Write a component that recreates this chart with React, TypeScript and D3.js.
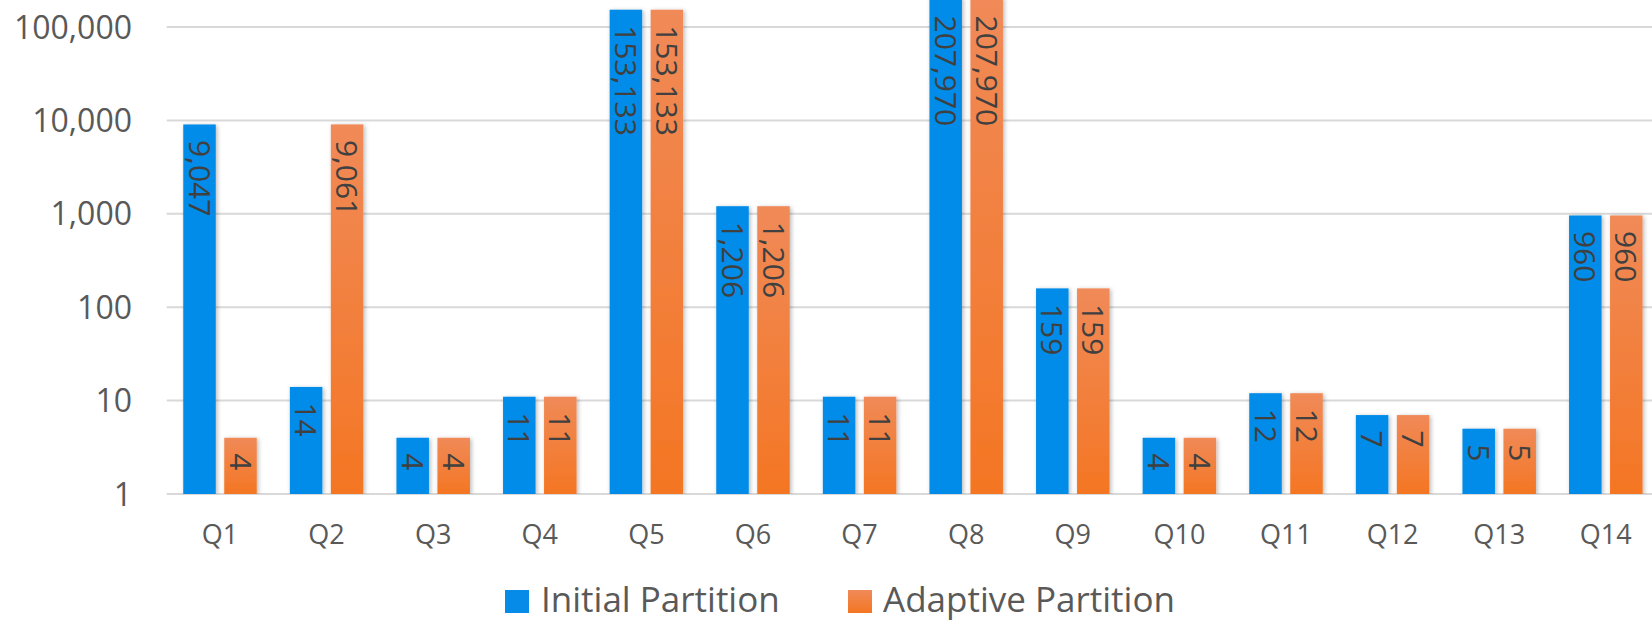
import React from 'react';
import * as d3 from 'd3';

// Query run results per partitioning strategy (log scale)
const categories = ['Q1', 'Q2', 'Q3', 'Q4', 'Q5', 'Q6', 'Q7', 'Q8', 'Q9', 'Q10', 'Q11', 'Q12', 'Q13', 'Q14'];
const initialPartition = [9047, 14, 4, 11, 153133, 1206, 11, 207970, 159, 4, 12, 7, 5, 960];
const adaptivePartition = [4, 9061, 4, 11, 153133, 1206, 11, 207970, 159, 4, 12, 7, 5, 960];
const seriesNames = ['Initial Partition', 'Adaptive Partition'];
const yTicks = [1, 10, 100, 1000, 10000, 100000];

const W = 1652;
const H = 621;
const plotLeft = 166.7;
const step = 106.6;
const baseY = 494;
const topY = 27;

const FONT = '"Open Sans", "DejaVu Sans", sans-serif';
const fmt = d3.format(',');

export default function App() {
  const x = d3
    .scaleBand<string>()
    .domain(categories)
    .range([plotLeft, plotLeft + categories.length * step])
    .paddingInner(0)
    .paddingOuter(0);

  const inner = d3
    .scaleBand<string>()
    .domain(seriesNames)
    .range([-36.75, 36.75])
    .paddingInner(0.207)
    .paddingOuter(0);

  const y = d3.scaleLog().domain([1, 100000]).range([baseY, topY]);

  const series = [
    { name: seriesNames[0], values: initialPartition, fill: '#068CE8' },
    { name: seriesNames[1], values: adaptivePartition, fill: 'url(#orangeGrad)' },
  ];

  return (
    <svg
      width={W}
      height={H}
      viewBox={`0 0 ${W} ${H}`}
      style={{ position: 'absolute', left: 0, top: 0, background: '#fff' }}
    >
      <defs>
        <linearGradient id="orangeGrad" x1="0" y1="0" x2="0" y2="1">
          <stop offset="0%" stopColor="#F08A58" />
          <stop offset="100%" stopColor="#F47623" />
        </linearGradient>
        <filter id="barShadow" x="-30%" y="-10%" width="160%" height="120%">
          <feDropShadow dx="1.5" dy="1" stdDeviation="2" floodColor="#000" floodOpacity="0.28" />
        </filter>
        <clipPath id="plotClip">
          <rect x={plotLeft} y={0} width={W - plotLeft} height={baseY} />
        </clipPath>
      </defs>

      {/* gridlines */}
      {yTicks.map((t) => (
        <line
          key={`g${t}`}
          x1={plotLeft}
          x2={W}
          y1={y(t)}
          y2={y(t)}
          stroke="#D9D9D9"
          strokeWidth={2}
        />
      ))}

      {/* y tick labels */}
      {yTicks.map((t) => (
        <text
          key={`yt${t}`}
          x={132}
          y={y(t)}
          dy="0.36em"
          textAnchor="end"
          fontFamily={FONT}
          fontSize={32}
          fill="#595959"
        >
          {fmt(t)}
        </text>
      ))}

      {/* bars */}
      <g clipPath="url(#plotClip)">
        {series.map((s) =>
          categories.map((c, i) => {
            const v = s.values[i];
            const cx = (x(c) as number) + x.bandwidth() / 2 + (inner(s.name) as number);
            const top = y(v);
            return (
              <rect
                key={`${s.name}-${c}`}
                x={cx}
                y={top}
                width={inner.bandwidth()}
                height={baseY - top}
                fill={s.fill}
                filter="url(#barShadow)"
              />
            );
          })
        )}
      </g>

      {/* value labels, rotated inside the bar ends */}
      {series.map((s) =>
        categories.map((c, i) => {
          const v = s.values[i];
          const cx =
            (x(c) as number) + x.bandwidth() / 2 + (inner(s.name) as number) + inner.bandwidth() / 2;
          const top = Math.max(y(v), 0) + 15.5;
          return (
            <text
              key={`l-${s.name}-${c}`}
              transform={`translate(${cx},${top}) rotate(90)`}
              dy="0.36em"
              textAnchor="start"
              fontFamily={FONT}
              fontSize={30}
              fill="#404040"
            >
              {fmt(v)}
            </text>
          );
        })
      )}

      {/* x axis labels */}
      {categories.map((c) => (
        <text
          key={`xl${c}`}
          x={(x(c) as number) + x.bandwidth() / 2}
          y={544}
          textAnchor="middle"
          fontFamily={FONT}
          fontSize={27}
          fill="#595959"
        >
          {c}
        </text>
      ))}

      {/* legend */}
      {[
        { name: seriesNames[0], fill: '#068CE8', sx: 505, tx: 541 },
        { name: seriesNames[1], fill: 'url(#orangeGrad)', sx: 848, tx: 883 },
      ].map((l) => (
        <g key={l.name}>
          <rect x={l.sx} y={590} width={24} height={23} fill={l.fill} />
          <text x={l.tx} y={612} fontFamily={FONT} fontSize={35} fill="#595959">
            {l.name}
          </text>
        </g>
      ))}
    </svg>
  );
}
